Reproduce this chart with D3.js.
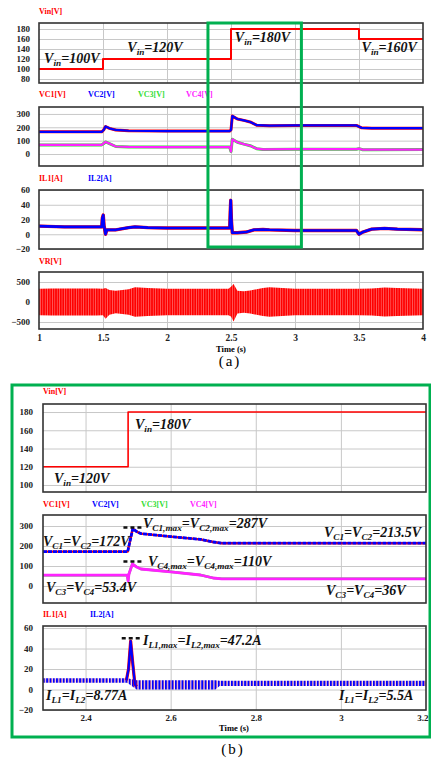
<!DOCTYPE html>
<html>
<head>
<meta charset="utf-8">
<script src="https://cdn.jsdelivr.net/npm/d3@7"></script>
<style>
  body { margin: 0; background: #fff; }
  svg { display: block; }
  text { font-family: "Liberation Serif", "Times New Roman", serif; }
</style>
</head>
<body>
<div id="chart"></div>
<script>
// ---------- data ----------
// (a) full run, 1 s .. 4 s
const timeTicksA = [1, 1.5, 2, 2.5, 3, 3.5, 4];
const vinA = [[1, 100], [1.5, 120], [2.5, 180], [3.5, 160], [4, 160]];
const vc12A = [[1, 166], [1.49, 166], [1.505, 180], [1.52, 206], [1.55, 192], [1.6, 180], [1.7, 174], [2.0, 172],
  [2.49, 172], [2.5, 180], [2.51, 284], [2.55, 262], [2.6, 252], [2.65, 240], [2.7, 216], [2.8, 212], [3.0, 214],
  [3.48, 214], [3.52, 196], [3.6, 193], [4, 193]];
const vc34A = [[1, 68], [1.49, 68], [1.5, 75], [1.52, 90], [1.55, 78], [1.6, 56], [1.7, 53], [2.0, 52], [2.49, 52],
  [2.5, 18], [2.51, 110], [2.55, 88], [2.6, 74], [2.65, 62], [2.7, 40], [2.75, 34], [3.0, 36], [3.48, 36], [3.5, 40],
  [3.53, 32], [3.6, 32], [4, 33]];
const ilA = [[1, 11], [1.2, 10], [1.49, 10], [1.495, 22], [1.502, 26], [1.508, 12], [1.52, 0], [1.53, 6], [1.6, 6],
  [1.7, 9], [1.75, 10], [1.85, 9], [2.0, 8.5], [2.49, 8.5], [2.494, 30], [2.498, 46], [2.503, 20], [2.51, 2],
  [2.55, 2], [2.62, 3], [2.68, 6], [2.75, 6.5], [2.8, 6], [3.0, 5], [3.48, 5], [3.5, 0], [3.53, 3], [3.6, 7],
  [3.7, 8], [3.8, 7], [4, 6]];
const vrT  = [1, 1.1, 1.3, 1.45, 1.5, 1.52, 1.55, 1.6, 1.7, 1.75, 1.85, 2.0, 2.3, 2.48, 2.5, 2.52, 2.55, 2.6, 2.65, 2.75, 2.8, 2.9, 3.0, 3.3, 3.5, 3.6, 3.7, 3.8, 4.0];
const vrHi = [330, 340, 340, 340, 330, 350, 300, 280, 320, 370, 350, 330, 330, 330, 380, 450, 280, 270, 290, 350, 370, 350, 330, 330, 330, 340, 360, 350, 330];
const vrLo = [-330, -340, -340, -340, -330, -420, -320, -280, -320, -370, -350, -330, -330, -330, -360, -490, -290, -270, -290, -350, -370, -350, -330, -330, -330, -340, -360, -350, -330];
const zoomWindow = [2.32, 3.05];

// (b) zoom, 2.3 s .. 3.2 s
const timeTicksB = [2.4, 2.6, 2.8, 3, 3.2];
const vinB = [[2.3, 120], [2.5, 180], [3.2, 180]];
const vc12B = [[2.3, 172], [2.499, 172], [2.511, 287], [2.52, 272], [2.53, 262], [2.6, 247], [2.67, 233],
  [2.7, 220], [2.72, 214], [3.2, 214]];
const vc34B = [[2.3, 54], [2.498, 54], [2.5, 25], [2.502, 60], [2.51, 110], [2.52, 95], [2.53, 85], [2.6, 71],
  [2.67, 55], [2.7, 40], [2.72, 36], [3.2, 36]];
const ilbT  = [2.3, 2.498, 2.52, 2.705, 2.715, 3.2];
const ilbHi = [11, 11, 9, 9, 8.5, 8.5];
const ilbLo = [6.5, 6.5, 0, 0, 3.5, 3.5];
const ilbSpike = [[2.496, 9], [2.501, 20], [2.506, 47.2], [2.511, 25], [2.516, 5], [2.52, 3]];

// ---------- drawing ----------
const W = 431, H = 760;
const RED = "#ff0000", BLUE = "#0000ff", GREEN = "#33dd33", MAG = "#ff22ff", FRAME = "#00b050";

const svg = d3.select("#chart").append("svg").attr("width", W).attr("height", H);
const defs = svg.append("defs");

// stripes for the dense switching waveforms
const pVR = defs.append("pattern").attr("id", "vrStripe").attr("patternUnits", "userSpaceOnUse")
  .attr("width", 2.4).attr("height", 10);
pVR.append("rect").attr("width", 2.4).attr("height", 10).attr("fill", RED);
pVR.append("rect").attr("x", 1.8).attr("width", 0.5).attr("height", 10).attr("fill", "#ff9a9a");

const pIL = defs.append("pattern").attr("id", "ilStripe").attr("patternUnits", "userSpaceOnUse")
  .attr("width", 3.3).attr("height", 10);
pIL.append("rect").attr("width", 2.1).attr("height", 10).attr("fill", BLUE);
pIL.append("rect").attr("x", 2.1).attr("width", 0.5).attr("height", 10).attr("fill", "#ff5050");

const xA = d3.scaleLinear().domain([1, 4]).range([39, 423]);
const xB = d3.scaleLinear().domain([2.3, 3.2]).range([43, 426]);

let clipN = 0;
function panel(x, dom, rng, ticks, gridX, labelX) {
  const y = d3.scaleLinear().domain(dom).range(rng);
  const [x0, x1] = x.range();
  const g = svg.append("g");

  // grid
  g.append("g").attr("transform", `translate(${x0},0)`)
    .call(d3.axisLeft(y).tickValues(ticks).tickSize(-(x1 - x0)).tickFormat(""))
    .call(s => s.select(".domain").remove())
    .call(s => s.selectAll("line").attr("stroke", "#c8c8c8").attr("stroke-width", 1));
  g.append("g").attr("transform", `translate(0,${rng[0]})`)
    .call(d3.axisBottom(x).tickValues(gridX).tickSize(-(rng[0] - rng[1])).tickFormat(""))
    .call(s => s.select(".domain").remove())
    .call(s => s.selectAll("line").attr("stroke", "#c8c8c8").attr("stroke-width", 1));

  // y tick labels
  g.append("g").attr("transform", `translate(${labelX},0)`)
    .call(d3.axisLeft(y).tickValues(ticks).tickSize(0).tickPadding(0))
    .call(s => s.select(".domain").remove())
    .call(s => s.selectAll("text").attr("font-size", 9).attr("font-weight", "bold")
      .attr("fill", "#222").attr("font-family", "Liberation Serif, serif"));

  const id = "clip" + (clipN++);
  defs.append("clipPath").attr("id", id).append("rect")
    .attr("x", x0).attr("y", rng[1]).attr("width", x1 - x0).attr("height", rng[0] - rng[1]);
  const plot = g.append("g").attr("clip-path", `url(#${id})`);
  const box = () => g.append("rect").attr("x", x0).attr("y", rng[1]).attr("width", x1 - x0)
    .attr("height", rng[0] - rng[1]).attr("fill", "none").attr("stroke", "#333").attr("stroke-width", 1.6);
  return { x, y, plot, box };
}

function line(p, data, color, width, curve, dash) {
  const gen = d3.line().x(d => p.x(d[0])).y(d => p.y(d[1])).curve(curve || d3.curveLinear);
  const path = p.plot.append("path").datum(data).attr("d", gen).attr("fill", "none")
    .attr("stroke", color).attr("stroke-width", width).attr("stroke-linejoin", "round");
  if (dash) path.attr("stroke-dasharray", dash);
}

function band(p, t, hi, lo, fill) {
  const rows = t.map((d, i) => ({ t: d, hi: hi[i], lo: lo[i] }));
  p.plot.append("path").datum(rows)
    .attr("d", d3.area().x(d => p.x(d.t)).y0(d => p.y(d.lo)).y1(d => p.y(d.hi)))
    .attr("fill", fill);
}

function titles(y, items) {
  items.forEach(([txt, color, x]) => svg.append("text").attr("x", x).attr("y", y)
    .attr("font-size", 8).attr("font-weight", "bold").attr("fill", color).text(txt));
}

// text with subscripts written as X_{sub}
function note(x, y, str, size, anchor) {
  const t = svg.append("text").attr("x", x).attr("y", y).attr("font-size", size)
    .attr("font-weight", "bold").attr("font-style", "italic").attr("fill", "#111")
    .attr("text-anchor", anchor || "start");
  const parts = str.split(/_\{([^}]*)\}/);
  let down = false;
  parts.forEach((s, i) => {
    if (!s) return;
    const sub = i % 2 === 1;
    const ts = t.append("tspan").text(s);
    if (sub) { ts.attr("font-size", size * 0.66); if (!down) ts.attr("dy", size * 0.2); down = true; }
    else if (down) { ts.attr("dy", -size * 0.2); down = false; }
  });
}

function dashMark(p, t0, t1, v) {
  p.plot.append("line").attr("x1", p.x(t0)).attr("x2", p.x(t1)).attr("y1", p.y(v)).attr("y2", p.y(v))
    .attr("stroke", "#111").attr("stroke-width", 2.5).attr("stroke-dasharray", "4,3");
}

function timeAxis(x, ticks, y, size) {
  const last = ticks[ticks.length - 1];
  svg.append("g").attr("transform", `translate(0,${y})`)
    .call(d3.axisBottom(x).tickValues(ticks).tickSize(0).tickPadding(0).tickFormat(d => String(d)))
    .call(s => s.select(".domain").remove())
    .call(s => s.selectAll("text").attr("font-size", size).attr("font-weight", "bold").attr("fill", "#222")
      .attr("font-family", "Liberation Serif, serif")
      .attr("text-anchor", d => (d === last && x(d) > 424 ? "end" : "middle"))
      .attr("dx", d => (d === last && x(d) > 424 ? 2 : 0)));
}

// ===== (a) =====
const gridA = [1.5, 2, 2.5, 3, 3.5];

titles(14, [["Vin[V]", RED, 39]]);
const a1 = panel(xA, [72, 192], [83, 23], [80, 100, 120, 140, 160, 180], gridA, 30);
line(a1, vinA, RED, 2, d3.curveStepAfter);
a1.box();

titles(97, [["VC1[V]", RED, 39], ["VC2[V]", BLUE, 88], ["VC3[V]", GREEN, 138], ["VC4[V]", MAG, 186]]);
const a2 = panel(xA, [-90, 352], [166, 107], [0, 100, 200, 300], gridA, 30);
line(a2, vc12A, RED, 3);
line(a2, vc12A, BLUE, 2.2);
line(a2, vc34A, GREEN, 3);
line(a2, vc34A, MAG, 2.2);
a2.box();

titles(181, [["IL1[A]", RED, 39], ["IL2[A]", BLUE, 88]]);
const a3 = panel(xA, [-20, 60], [249, 190], [-20, 0, 20, 40, 60], gridA, 30);
line(a3, ilA, RED, 3.4);
line(a3, ilA, BLUE, 2.6);
a3.box();

titles(264, [["VR[V]", RED, 39]]);
const a4 = panel(xA, [-675, 750], [329, 272], [-500, 0, 500], gridA, 30);
band(a4, vrT, vrHi, vrLo, "url(#vrStripe)");
a4.box();

timeAxis(xA, timeTicksA, 334, 9.5);
svg.append("text").attr("x", 231).attr("y", 352).attr("text-anchor", "middle")
  .attr("font-size", 8.5).attr("font-weight", "bold").text("Time (s)");
svg.append("text").attr("x", 230).attr("y", 366).attr("text-anchor", "middle")
  .attr("font-size", 15).attr("letter-spacing", 2).text("(a)");

note(xA(1.04), a1.y(112), "V_{in}=100V", 14);
note(xA(1.69), a1.y(134), "V_{in}=120V", 14);
note(xA(2.53), a1.y(154), "V_{in}=180V", 14);
note(xA(3.52), a1.y(134), "V_{in}=160V", 14);

// zoom window marker
svg.append("rect").attr("x", xA(zoomWindow[0])).attr("y", 23)
  .attr("width", xA(zoomWindow[1]) - xA(zoomWindow[0])).attr("height", 224)
  .attr("fill", "none").attr("stroke", FRAME).attr("stroke-width", 3);

// ===== (b) =====
const gridB = [2.4, 2.6, 2.8, 3];

titles(394, [["Vin[V]", RED, 43]]);
const b1 = panel(xB, [92.3, 188.8], [492, 404], [100, 120, 140, 160, 180], gridB, 33);
line(b1, vinB, RED, 1.6, d3.curveStepAfter);
b1.box();

titles(507, [["VC1[V]", RED, 43], ["VC2[V]", BLUE, 92], ["VC3[V]", GREEN, 141], ["VC4[V]", MAG, 190]]);
const b2 = panel(xB, [-85, 355], [603, 515], [0, 100, 200, 300], gridB, 33);
line(b2, vc12B, RED, 2.4);
line(b2, vc12B, BLUE, 2.8, null, "4,1");
line(b2, vc34B, GREEN, 2.4);
line(b2, vc34B, MAG, 2.8);
dashMark(b2, 2.489, 2.536, 292);
dashMark(b2, 2.489, 2.536, 122);
b2.box();

titles(617, [["IL1[A]", RED, 43], ["IL2[A]", BLUE, 90]]);
const b3 = panel(xB, [-20, 62], [710, 626], [-20, 0, 20, 40, 60], gridB, 33);
band(b3, ilbT, ilbHi, ilbLo, "url(#ilStripe)");
line(b3, ilbSpike, RED, 3.2);
line(b3, ilbSpike, BLUE, 2.2);
dashMark(b3, 2.485, 2.53, 50);
b3.box();

timeAxis(xB, timeTicksB, 715, 9);
svg.append("text").attr("x", 234).attr("y", 731).attr("text-anchor", "middle")
  .attr("font-size", 8.5).attr("font-weight", "bold").text("Time (s)");
svg.append("text").attr("x", 233).attr("y", 754).attr("text-anchor", "middle")
  .attr("font-size", 15).attr("letter-spacing", 2).text("(b)");

note(54, 483, "V_{in}=120V", 14);
note(135, 429, "V_{in}=180V", 14);
note(143, 528, "V_{C1,max}=V_{C2,max}=287V", 14);
note(421, 537, "V_{C1}=V_{C2}=213.5V", 14, "end");
note(43, 546, "V_{C1}=V_{C2}=172V", 14);
note(148, 566, "V_{C4,max}=V_{C4,max}=110V", 14);
note(46, 592, "V_{C3}=V_{C4}=53.4V", 14);
note(326, 595, "V_{C3}=V_{C4}=36V", 14);
note(143, 645, "I_{L1,max}=I_{L2,max}=47.2A", 14);
note(46, 700, "I_{L1}=I_{L2}=8.77A", 14);
note(339, 700, "I_{L1}=I_{L2}=5.5A", 14);

// outer frame of (b)
svg.append("rect").attr("x", 12).attr("y", 385).attr("width", 418).attr("height", 352)
  .attr("fill", "none").attr("stroke", FRAME).attr("stroke-width", 3);
</script>
</body>
</html>
